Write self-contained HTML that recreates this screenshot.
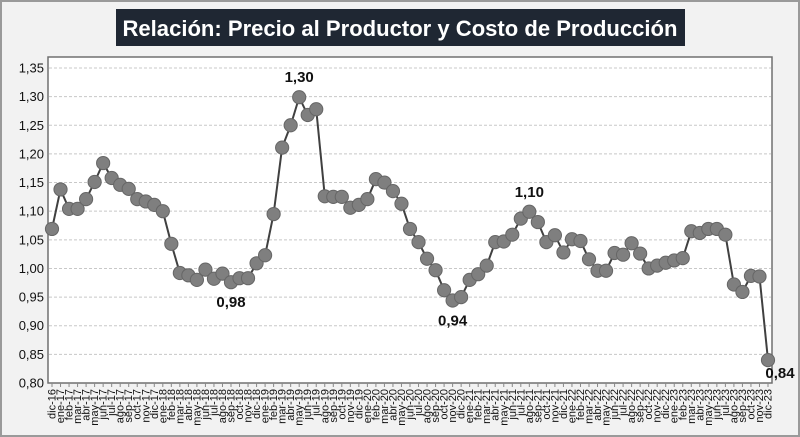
<!DOCTYPE html>
<html><head><meta charset="utf-8"><style>
html,body{margin:0;padding:0;background:#fff}
svg{display:block;font-family:"Liberation Sans",sans-serif}
</style></head><body>
<svg id="chart" width="800" height="437" viewBox="0 0 800 437" xmlns="http://www.w3.org/2000/svg">
<rect x="1" y="1" width="798" height="435" fill="#f2f2f2" stroke="#9a9a9a" stroke-width="2"/>
<rect x="116" y="9" width="569" height="37" fill="#1f2733"/>
<text x="400" y="36" text-anchor="middle" fill="#fff" font-size="22" font-weight="bold" textLength="555" lengthAdjust="spacingAndGlyphs">Relación: Precio al Productor y Costo de Producción</text>
<rect x="48" y="57" width="724" height="326" fill="#fff" stroke="#707070" stroke-width="1.5"/>
<g id="grid"></g><g id="yaxis"></g><g id="xaxis"></g><g id="series"></g><g id="labels"></g>
</svg>
<script>
const catList = ["dic-16",
"ene-17","feb-17","mar-17","abr-17","may-17","jun-17","jul-17","ago-17","sep-17","oct-17","nov-17","dic-17",
"ene-18","feb-18","mar-18","abr-18","may-18","jun-18","jul-18","ago-18","sep-18","oct-18","nov-18","dic-18",
"ene-19","feb-19","mar-19","abr-19","may-19","jun-19","jul-19","ago-19","sep-19","oct-19","nov-19","dic-19",
"ene-20","feb-20","mar-20","abr-20","may-20","jun-20","jul-20","ago-20","sep-20","oct-20","nov-20","dic-20",
"ene-21","feb-21","mar-21","abr-21","may-21","jun-21","jul-21","ago-21","sep-21","oct-21","nov-21","dic-21",
"ene-22","feb-22","mar-22","abr-22","may-22","jun-22","jul-22","ago-22","sep-22","oct-22","nov-22","dic-22",
"ene-23","feb-23","mar-23","abr-23","may-23","jun-23","jul-23","ago-23","sep-23","oct-23","nov-23","dic-23"];
const values = [1.069,
1.138,1.104,1.104,1.121,1.151,1.184,1.158,1.146,1.139,1.121,1.117,1.111,
1.100,1.043,0.992,0.988,0.980,0.998,0.982,0.991,0.976,0.983,0.983,1.009,
1.023,1.095,1.211,1.250,1.299,1.268,1.278,1.126,1.125,1.125,1.106,1.111,
1.121,1.156,1.150,1.135,1.113,1.069,1.046,1.017,0.997,0.962,0.944,0.950,
0.980,0.990,1.005,1.046,1.047,1.059,1.087,1.099,1.081,1.046,1.058,1.028,
1.051,1.048,1.016,0.996,0.996,1.027,1.024,1.044,1.026,1.000,1.005,1.010,
1.014,1.018,1.065,1.062,1.069,1.069,1.059,0.972,0.959,0.987,0.986,0.840];
const yTicks = [0.80,0.85,0.90,0.95,1.00,1.05,1.10,1.15,1.20,1.25,1.30,1.35];
const annotations = [["may-19","1,30","above"],["sep-18","0,98","below"],["nov-20","0,94","below"],["ago-21","1,10","above"],["dic-23","0,84","right"]];

const NS="http://www.w3.org/2000/svg";
function mk(tag,attrs,parent){const e=document.createElementNS(NS,tag);for(const k in attrs)e.setAttribute(k,attrs[k]);parent.appendChild(e);return e;}
const yMin=0.80,yMax=1.35,pTop=68,pBot=383;
function yScale(v){return pBot-(v-yMin)/(yMax-yMin)*(pBot-pTop);}
const x0=52,x1=768;
function xScale(i){return x0+(x1-x0)*i/(catList.length-1);}

const grid=document.getElementById('grid'),ya=document.getElementById('yaxis'),xa=document.getElementById('xaxis'),ser=document.getElementById('series'),lab=document.getElementById('labels');
yTicks.forEach(t=>{
  const y=yScale(t);
  if(t>yMin){const l=mk('line',{x1:49,x2:771,y1:y,y2:y,stroke:'#c8c8c8','stroke-dasharray':'3,2','stroke-width':1},grid);
  
  }
  const tx=mk('text',{x:44,y:y+4.5,'text-anchor':'end','font-size':13,fill:'#111'},ya);
  tx.textContent=t.toFixed(2).replace('.',',');
  
  
});
catList.forEach((c,i)=>{
  const x=xScale(i);
  const tk=mk('line',{x1:x,x2:x,y1:383,y2:387,stroke:'#888'},xa);
  
  
  const tx=mk('text',{x:0,y:0,'text-anchor':'end','font-size':11,fill:'#111',transform:`translate(${x+3.5},389) rotate(-90)`},xa);
  tx.textContent=c;
  
  
});
const pts=values.map((v,i)=>xScale(i).toFixed(1)+','+yScale(v).toFixed(1)).join(' ');
const pl=mk('polyline',{points:pts,fill:'none',stroke:'#404040','stroke-width':2},ser);


values.forEach((v,i)=>{
  const c=mk('circle',{cx:xScale(i),cy:yScale(v),r:6.6,fill:'#7f7f7f',stroke:'#666','stroke-width':1},ser);
  
  
});
annotations.forEach(a=>{
  const i=catList.indexOf(a[0]);const v=values[i];
  let x=xScale(i),y=yScale(v);
  let ty=a[2]==='above'?y-15:y+25;
  if(a[2]==='right'){x+=12;ty=y+18;}
  const t=mk('text',{x:x,y:ty,'text-anchor':'middle','font-size':15,'font-weight':'bold',fill:'#111'},lab);
  t.textContent=a[1];
  
  
});
</script>
</body></html>
